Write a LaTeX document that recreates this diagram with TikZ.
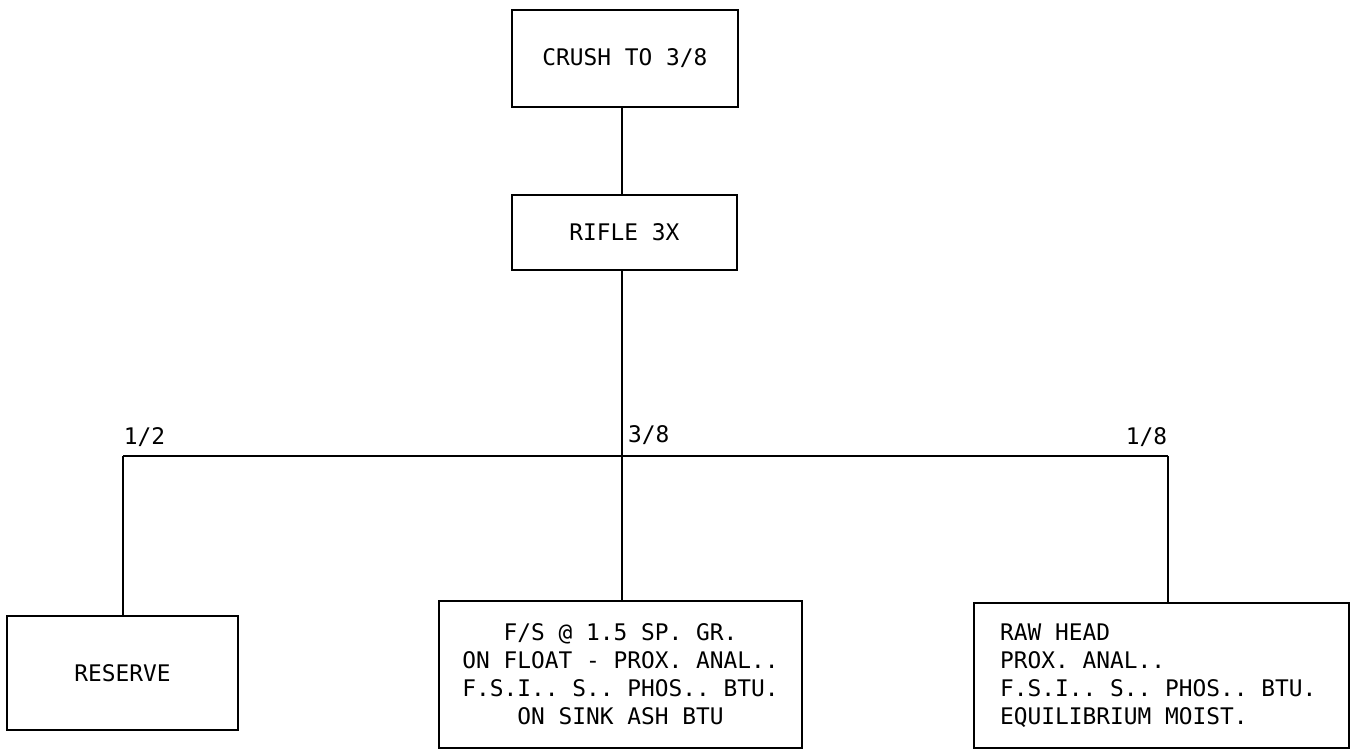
\documentclass[tikz,border=0pt]{standalone}
\usepackage{fontspec}
\setmonofont{DejaVu Sans Mono}[WordSpace={1,0,0}]
\usepackage{tikz}
\usetikzlibrary{positioning}

\begin{document}
\begin{tikzpicture}[x=0.02cm,y=-0.02cm,line width=1.1pt,
  font=\ttfamily\fontsize{13}{15.9}\selectfont,
  stagebox/.style={draw,rectangle,inner sep=0pt,align=center}]
\useasboundingbox (0,0) rectangle (1357,753);
\node[stagebox,minimum width=4.52cm,minimum height=1.94cm] (crush) at (625,58.5) {CRUSH TO 3/8};
\node[stagebox,minimum width=4.5cm,minimum height=1.5cm] (rifle) at (624.5,232.5) {RIFLE 3X};
\coordinate (split) at (622,456);
\coordinate (halfcut) at (123,456);
\coordinate (eighthcut) at (1168,456);
\node[stagebox,minimum width=4.62cm,minimum height=2.28cm] (reserve) at (122.5,673) {RESERVE};
\node[stagebox,minimum width=7.26cm,minimum height=2.94cm] (floatsink) at (620.5,674.5) {F/S @ 1.5 SP. GR.\\ON FLOAT - PROX. ANAL..\\F.S.I.. S.. PHOS.. BTU.\\ON SINK ASH BTU};
\node[stagebox,align=flush left,text width=6.46cm,inner xsep=0.52cm,minimum height=2.9cm] (rawhead) at (1161.5,675.5) {RAW HEAD\\PROX. ANAL..\\F.S.I.. S.. PHOS.. BTU.\\EQUILIBRIUM MOIST.};
\draw (crush.south -| split) -- (rifle.north -| split);
\draw (rifle.south -| split) -- (split);
\draw (halfcut) -- (eighthcut);
\draw (halfcut) -- (reserve.north -| halfcut);
\draw (split) -- (floatsink.north -| split);
\draw (eighthcut) -- (rawhead.north -| eighthcut);
\node[anchor=south west,inner xsep=0pt,inner ysep=5pt] (halflabel) at (halfcut) {1/2};
\node[anchor=south west,inner xsep=3pt,inner ysep=6pt] (splitlabel) at (split) {3/8};
\node[anchor=south east,inner xsep=0pt,inner ysep=5pt] (eighthlabel) at (eighthcut) {1/8};
\end{tikzpicture}
\end{document}
